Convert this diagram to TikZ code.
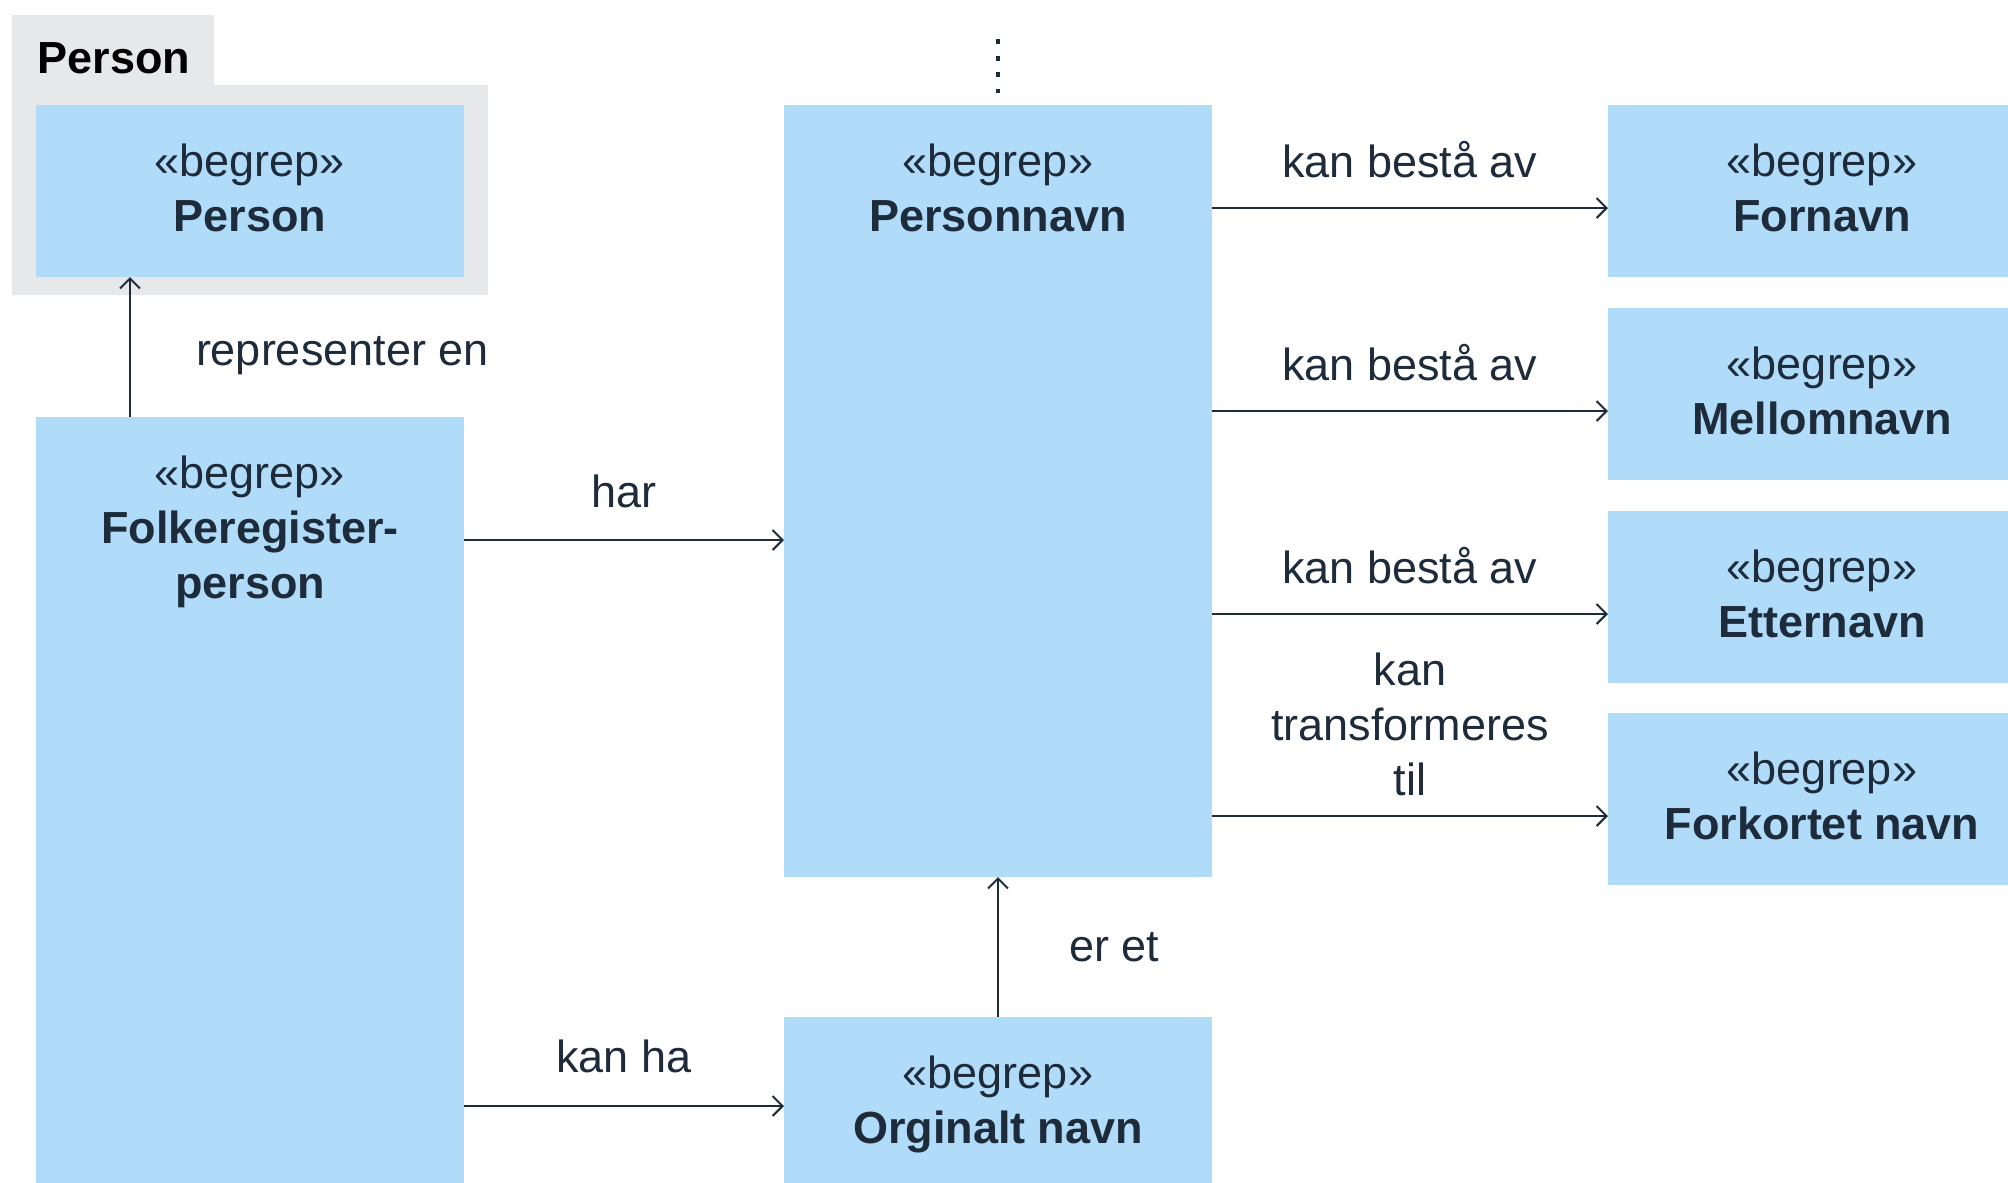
\documentclass[tikz,border=0pt]{standalone}
\usepackage{fontspec}
\setmainfont{Liberation Sans}
\usetikzlibrary{positioning, arrows.meta}
\definecolor{boxblue}{RGB}{176,219,249}
\definecolor{pkggray}{RGB}{231,232,234}
\definecolor{ink}{RGB}{30,43,58}
\tikzset{
    >={Straight Barb[length=0.1cm, width=0.2cm]},   % Open arrow heads
    begrep/.style={fill=boxblue, minimum width=4.28cm, inner sep=0pt, outer sep=0pt,
                   label={[navn]north:{«begrep»\\#1}}}, % Concept box with stereotype
    navn/.style={anchor=north, yshift=-0.38cm, align=center, inner sep=0pt, text=ink},
    rel/.style={->, draw=ink, line width=0.02cm},   % Relation between concepts
    lbl/.style={inner sep=0pt, text=ink}            % Text on a relation
}

\begin{document}
\begin{tikzpicture}[font=\fontsize{12.8pt}{15.65pt}\selectfont]
    \useasboundingbox (0,0) rectangle (20.08,-11.82);

    % Package
    \fill[pkggray] (0.12,-0.15) rectangle (2.14,-0.85) (0.12,-0.85) rectangle (4.88,-2.95);
    \node[anchor=base west, inner sep=0pt, font=\fontsize{12.8pt}{15.65pt}\selectfont\bfseries] (pkgname) at (0.37,-0.73) {Person};

    % Define concepts
    \node[begrep={\textbf{Person}}, minimum height=1.72cm, anchor=north west] (person) at (0.36,-1.05) {};
    \node[begrep={\textbf{Folkeregister-}\\\textbf{person}}, minimum height=8cm, below=1.40cm of person.south west, anchor=north west] (folk) {};
    \node[begrep={\textbf{Personnavn}}, minimum height=7.72cm, right=3.20cm of person.north east, anchor=north west] (pn) {};
    \node[begrep={\textbf{Orginalt navn}}, minimum height=1.8cm, below=1.40cm of pn] (orig) {};
    \node[begrep={\textbf{Fornavn}}, minimum height=1.72cm, right=3.96cm of pn.north east, anchor=north west] (forn) {};
    \node[begrep={\textbf{Mellomnavn}}, minimum height=1.72cm, below=0.31cm of forn] (mell) {};
    \node[begrep={\textbf{Etternavn}}, minimum height=1.72cm, below=0.31cm of mell] (ette) {};
    \node[begrep={\textbf{Forkortet navn}}, minimum height=1.72cm, below=0.30cm of ette] (fork) {};

    % Anchor points of the relations
    \coordinate (repA) at ([xshift=0.94cm]folk.north west);
    \coordinate (harA) at ([yshift=-1.23cm]folk.north east);
    \coordinate (kanhaB) at ([yshift=-0.89cm]orig.north west);
    \coordinate (fornB) at ([yshift=-0.17cm]forn.west);
    \coordinate (mellB) at ([yshift=-0.17cm]mell.west);
    \coordinate (etteB) at ([yshift=-0.17cm]ette.west);
    \coordinate (forkB) at ([yshift=-0.17cm]fork.west);

    % Draw relations
    \draw[rel] (repA) -- node[lbl, right=0.65cm, pos=0.44] {representer en} (repA |- person.south);
    \draw[rel] (harA) -- node[lbl, above=0.31cm] {har} (harA -| pn.west);
    \draw[rel] (kanhaB -| folk.east) -- node[lbl, above=0.32cm] {kan ha} (kanhaB);
    \draw[rel] (orig.north) -- node[lbl, right=0.7cm] {er et} (pn.south);
    \draw[rel] (fornB -| pn.east) -- node[lbl, above=0.29cm] {kan bestå av} (fornB);
    \draw[rel] (mellB -| pn.east) -- node[lbl, above=0.29cm] {kan bestå av} (mellB);
    \draw[rel] (etteB -| pn.east) -- node[lbl, above=0.29cm] {kan bestå av} (etteB);
    \draw[rel] (forkB -| pn.east) -- node[lbl, above=0.19cm, align=center] {kan\\transformeres\\til} (forkB);

    % Continuation above the name
    \draw[ink, line width=0.04cm, dash pattern=on 0.05cm off 0.117cm] ([yshift=0.66cm]pn.north) -- ([yshift=0.12cm]pn.north);
\end{tikzpicture}
\end{document}
